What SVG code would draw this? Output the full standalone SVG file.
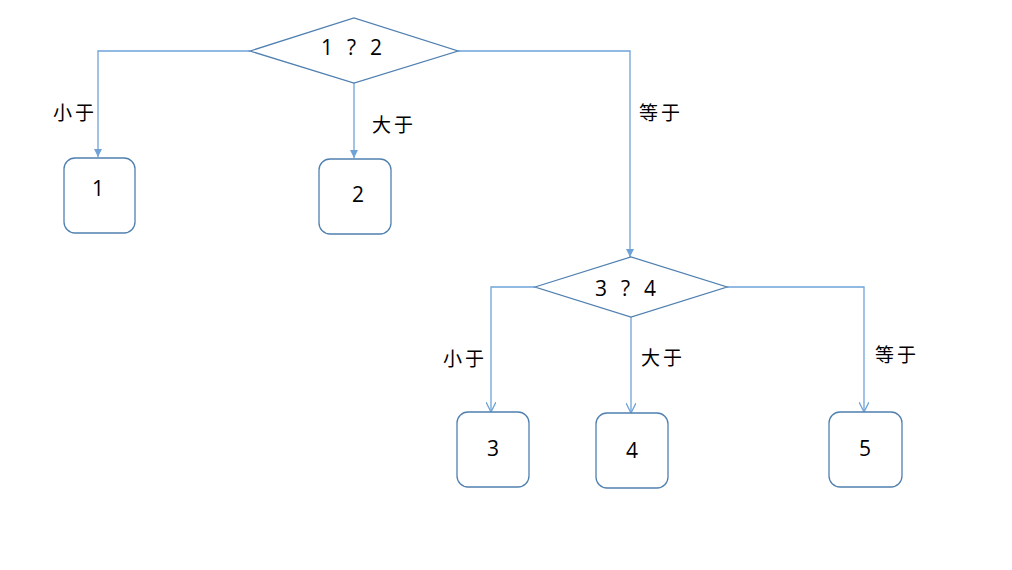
<svg xmlns="http://www.w3.org/2000/svg" width="1012" height="570" viewBox="0 0 1012 570">
<style>
.shape{fill:#fff;stroke:#5080B0;stroke-width:1.3}
.conn{fill:none;stroke:#6FA3D8;stroke-width:1.3}
.lbl{font-family:"Noto Sans CJK SC","Liberation Sans",sans-serif;font-size:19px;fill:#000;letter-spacing:3px}
.num{font-family:"Open Sans","DejaVu Sans",sans-serif;font-size:21px;fill:#000;text-anchor:middle;dominant-baseline:central}
.q{letter-spacing:1px}
</style>
<defs>
<marker id="fill" viewBox="0 0 10 10" refX="10" refY="5" markerWidth="8" markerHeight="8" markerUnits="userSpaceOnUse" orient="auto"><path d="M0,0 L10,5 L0,10 Z" fill="#6FA3D8"/></marker>
<marker id="open" viewBox="0 0 10 10" refX="10" refY="5" markerWidth="10" markerHeight="10" markerUnits="userSpaceOnUse" orient="auto"><path d="M0,0 L10,5 L0,10" fill="none" stroke="#6FA3D8" stroke-width="1.3"/></marker>
</defs>
<rect width="1012" height="570" fill="#fff"/>
<g id="connectors">
<path class="conn" d="M250,51 H98 V157" marker-end="url(#fill)"/>
<path class="conn" d="M354,83 V158" marker-end="url(#fill)"/>
<path class="conn" d="M458,51 H630 V257" marker-end="url(#fill)"/>
<path class="conn" d="M535,287 H491 V412" marker-end="url(#open)"/>
<path class="conn" d="M631,317 V413" marker-end="url(#open)"/>
<path class="conn" d="M727,287 H864 V412" marker-end="url(#open)"/>
<text class="lbl" x="53" y="120">小于</text>
<text class="lbl" x="372" y="132">大于</text>
<text class="lbl" x="639" y="120">等于</text>
<text class="lbl" x="443" y="366">小于</text>
<text class="lbl" x="641" y="365">大于</text>
<text class="lbl" x="875" y="362">等于</text>
</g>
<g id="d1"><polygon class="shape" points="250,51 354,18 458,51 354,83"/><text class="num q" x="352" y="47" xml:space="preserve">1  ?  2</text></g>
<g id="n1"><rect class="shape" x="64" y="158" width="71" height="75" rx="11"/><text class="num" x="98" y="188">1</text></g>
<g id="n2"><rect class="shape" x="319" y="159" width="72" height="75" rx="11"/><text class="num" x="358" y="194">2</text></g>
<g id="d2"><polygon class="shape" points="535,287 631,257 727,287 631,317"/><text class="num q" x="626" y="288" xml:space="preserve">3  ?  4</text></g>
<g id="n3"><rect class="shape" x="457" y="412" width="72" height="75" rx="11"/><text class="num" x="493" y="448">3</text></g>
<g id="n4"><rect class="shape" x="596" y="413" width="72" height="75" rx="11"/><text class="num" x="632" y="450">4</text></g>
<g id="n5"><rect class="shape" x="829" y="412" width="73" height="75" rx="11"/><text class="num" x="865" y="448">5</text></g>
</svg>
